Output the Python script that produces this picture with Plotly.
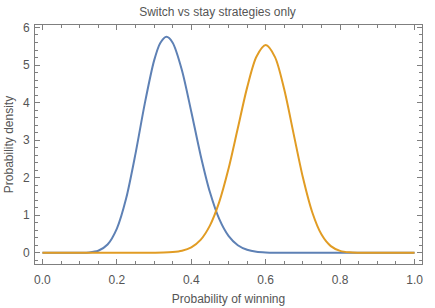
import plotly.graph_objects as go

# Blue curve (stay strategy)
stay_x = [0.0, 0.05, 0.075, 0.1, 0.125, 0.15, 0.175, 0.2, 0.225, 0.25, 0.275, 0.3, 0.3167, 0.3333,
          0.35, 0.375, 0.4, 0.425, 0.45, 0.475, 0.5, 0.525, 0.55, 0.575, 0.6, 0.625, 0.65, 0.7,
          0.8, 0.9, 1.0]
stay_y = [0.0, 0.0, 0.0, 0.0007, 0.008, 0.053, 0.218, 0.642, 1.448, 2.633, 3.972, 5.117, 5.588, 5.75,
          5.594, 4.856, 3.756, 2.599, 1.616, 0.901, 0.450, 0.201, 0.080, 0.028, 0.009, 0.002, 0.0005, 0.0,
          0.0, 0.0, 0.0]

# Orange curve (switch strategy)
switch_x = [0.0, 0.1, 0.2, 0.3, 0.325, 0.35, 0.375, 0.4, 0.425, 0.45, 0.475, 0.5, 0.525, 0.55, 0.575,
            0.6, 0.625, 0.65, 0.675, 0.7, 0.725, 0.75, 0.775, 0.8, 0.825, 0.85, 0.9, 1.0]
switch_y = [0.0, 0.0, 0.0, 0.001, 0.004, 0.017, 0.053, 0.144, 0.344, 0.723, 1.347, 2.234, 3.314, 4.398, 5.219,
            5.53, 5.210, 4.339, 3.167, 2.002, 1.079, 0.484, 0.176, 0.050, 0.010, 0.0014, 0.0, 0.0]

x_ticks = [0.0, 0.2, 0.4, 0.6, 0.8, 1.0]
x_labels = ["0.0", "0.2", "0.4", "0.6", "0.8", "1.0"]
y_ticks = [0, 1, 2, 3, 4, 5, 6]
y_labels = ["0", "1", "2", "3", "4", "5", "6"]

BLUE = "#5E81B5"
ORANGE = "#E19C24"
FRAME = "#7f7f7f"
TEXT = "#555555"
FONT = "Liberation Sans, Arial, sans-serif"

fig = go.Figure()
fig.add_trace(go.Scatter(x=stay_x, y=stay_y, mode="lines",
                         line=dict(color=BLUE, width=2, shape="spline", smoothing=0.8)))
fig.add_trace(go.Scatter(x=switch_x, y=switch_y, mode="lines",
                         line=dict(color=ORANGE, width=2, shape="spline", smoothing=0.8)))

axis_common = dict(showline=True, linecolor=FRAME, linewidth=1, mirror="allticks",
                   ticks="inside", ticklen=5, tickcolor=FRAME, tickwidth=1,
                   showgrid=False, zeroline=False, automargin=False,
                   tickfont=dict(family=FONT, size=12, color=TEXT))

fig.update_layout(
    width=435, height=308,
    margin=dict(l=35, r=13, t=25, b=44),
    paper_bgcolor="white", plot_bgcolor="white",
    showlegend=False,
    title=dict(text="Switch vs stay strategies only", x=0.5, xanchor="center",
               y=1 - 12 / 308, yanchor="middle",
               font=dict(family=FONT, size=12, color=TEXT)),
    xaxis=dict(range=[-0.02, 1.02], tickvals=x_ticks, ticktext=x_labels,
               ticklabelstandoff=5,
               minor=dict(dtick=0.05, ticks="inside", ticklen=3, tickcolor=FRAME),
               title=dict(text="Probability of winning", standoff=8,
                          font=dict(family=FONT, size=12, color=TEXT)),
               **axis_common),
    yaxis=dict(range=[-0.3, 6.066], tickvals=y_ticks, ticktext=y_labels,
               ticklabelstandoff=2,
               minor=dict(dtick=0.2, tick0=0, ticks="inside", ticklen=3, tickcolor=FRAME),
               title=dict(text="Probability density", standoff=6,
                          font=dict(family=FONT, size=12, color=TEXT)),
               **axis_common),
)

fig.write_html("out.html")
